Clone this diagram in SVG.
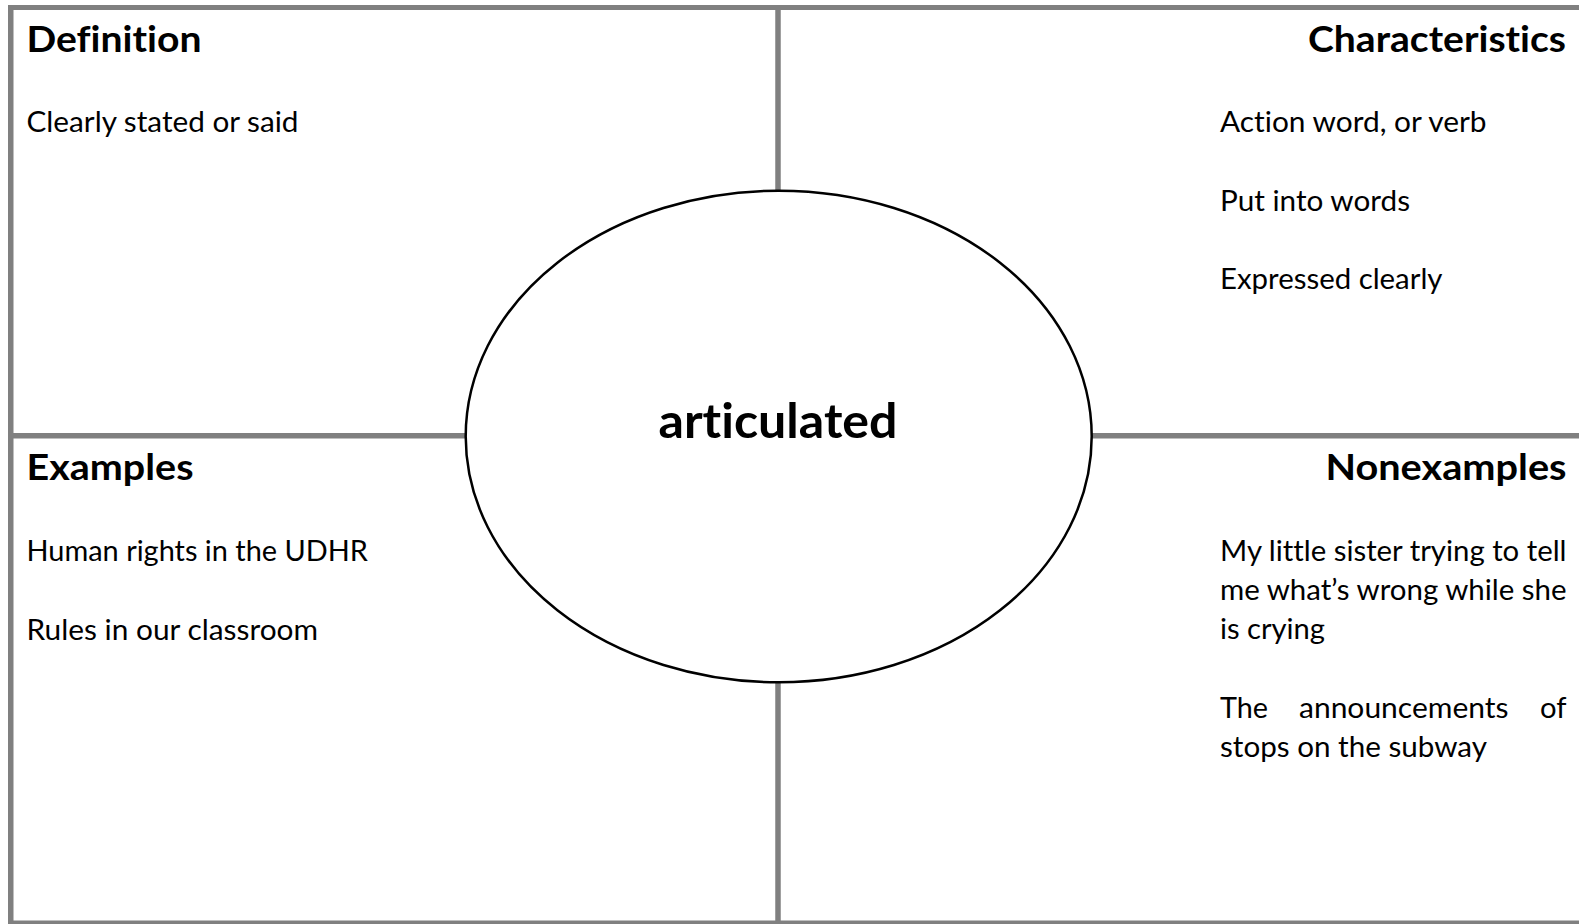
<svg xmlns="http://www.w3.org/2000/svg" width="1579" height="924" viewBox="0 0 1579 924">
  <style>
    text { font-variant-ligatures: none; font-feature-settings: "liga" 0, "clig" 0, "dlig" 0; }
    .grid { stroke: #808080; fill: none; }
    .h { font-family: Lato, "Open Sans", sans-serif; font-weight: bold; font-size: 37px; fill: #000; }
    .b { font-family: Lato, "Open Sans", sans-serif; font-size: 29px; fill: #000; }
    .t { font-family: Lato, "Open Sans", sans-serif; font-weight: bold; font-size: 48px; fill: #000; }
  </style>
  <rect x="0" y="0" width="1579" height="924" fill="#ffffff"/>
  <g id="connectors">
    <line class="grid" x1="8" y1="7.5" x2="1579" y2="7.5" stroke-width="5"/>
    <line class="grid" x1="10.75" y1="5" x2="10.75" y2="924" stroke-width="5.5"/>
    <line class="grid" x1="8" y1="923.5" x2="1579" y2="923.5" stroke-width="6"/>
    <line class="grid" x1="778" y1="10" x2="778" y2="921" stroke-width="5.5"/>
    <line class="grid" x1="13" y1="435.7" x2="1579" y2="435.7" stroke-width="5.5"/>
  </g>
  <g id="definition">
    <text class="h" x="26.5" y="52" textLength="175" lengthAdjust="spacingAndGlyphs">Definition</text>
    <text class="b" x="26.5" y="132" textLength="272" lengthAdjust="spacingAndGlyphs">Clearly stated or said</text>
  </g>
  <g id="characteristics">
    <text class="h" x="1308" y="52" textLength="258" lengthAdjust="spacingAndGlyphs">Characteristics</text>
    <text class="b" x="1220" y="132" textLength="266.5" lengthAdjust="spacingAndGlyphs">Action word, or verb</text>
    <text class="b" x="1220" y="210.6" textLength="190" lengthAdjust="spacingAndGlyphs">Put into words</text>
    <text class="b" x="1220" y="289.2" textLength="222.5" lengthAdjust="spacingAndGlyphs">Expressed clearly</text>
  </g>
  <g id="examples">
    <text class="h" x="26.5" y="480" textLength="167" lengthAdjust="spacingAndGlyphs">Examples</text>
    <text class="b" x="26.5" y="561" textLength="341.5" lengthAdjust="spacingAndGlyphs">Human rights in the UDHR</text>
    <text class="b" x="26.5" y="639.6" textLength="291.5" lengthAdjust="spacingAndGlyphs">Rules in our classroom</text>
  </g>
  <g id="nonexamples">
    <text class="h" x="1325.5" y="480" textLength="241" lengthAdjust="spacingAndGlyphs">Nonexamples</text>
    <text class="b" x="1220" y="561" textLength="346.5" lengthAdjust="spacingAndGlyphs">My little sister trying to tell</text>
    <text class="b" x="1220" y="600.2" textLength="346.5" lengthAdjust="spacingAndGlyphs">me what’s wrong while she</text>
    <text class="b" x="1220" y="639.4" textLength="105" lengthAdjust="spacingAndGlyphs">is crying</text>
    <text class="b" x="1220" y="717.8" textLength="48" lengthAdjust="spacingAndGlyphs">The</text>
    <text class="b" x="1299" y="717.8" textLength="209.5" lengthAdjust="spacingAndGlyphs">announcements</text>
    <text class="b" x="1540" y="717.8" textLength="26.5" lengthAdjust="spacingAndGlyphs">of</text>
    <text class="b" x="1220" y="757" textLength="267" lengthAdjust="spacingAndGlyphs">stops on the subway</text>
  </g>
  <g id="center">
    <ellipse cx="778.7" cy="436.5" rx="313" ry="245.8" fill="#ffffff" stroke="#000000" stroke-width="2.5"/>
    <text class="t" x="658.5" y="438" textLength="239" lengthAdjust="spacingAndGlyphs">articulated</text>
  </g>
</svg>
